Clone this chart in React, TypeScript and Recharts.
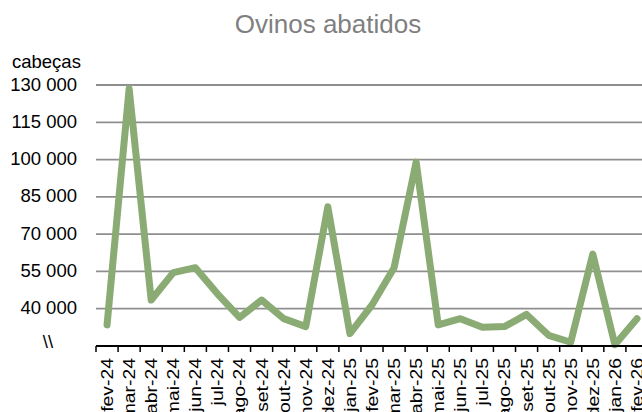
import React from "react";
import { LineChart, Line, XAxis, YAxis, CartesianGrid } from "recharts";

// meses (fev-24 .. fev-26)
const months = [
  "fev-24", "mar-24", "abr-24", "mai-24", "jun-24", "jul-24", "ago-24",
  "set-24", "out-24", "nov-24", "dez-24", "jan-25", "fev-25", "mar-25",
  "abr-25", "mai-25", "jun-25", "jul-25", "ago-25", "set-25", "out-25",
  "nov-25", "dez-25", "jan-26", "fev-26",
];

// cabeças abatidas
const ovinos = [
  33500, 128500, 43500, 54500, 56500, 46000, 36500, 43500, 36000, 32800,
  81000, 30000, 41500, 56500, 99000, 33500, 36000, 32500, 32800, 37700,
  29300, 26500, 62000, 25500, 36000,
];

const yTicks = [25000, 40000, 55000, 70000, 85000, 100000, 115000, 130000];
const yBreakLabel = "\\\\";

const FONT = "'Liberation Sans', Arial, sans-serif";
const CHART_W = 652;
const CHART_H = 412;
const Y_AXIS_W = 96;
const MARGIN = { top: 85, right: 4, bottom: 0, left: 0 };
const PLOT_W = CHART_W - MARGIN.left - MARGIN.right - Y_AXIS_W;
const STEP = PLOT_W / months.length;

const data = months.map((m, i) => ({ month: m, value: ovinos[i] }));

const fmt = (v: number) =>
  String(v).replace(/\B(?=(\d{3})+(?!\d))/g, " ");

const XTick = (props: any) => {
  const { x, y, payload } = props;
  const bx = x - STEP / 2;
  const ty = y + 12;
  return (
    <g>
      <line x1={bx} x2={bx} y1={y} y2={y + 6} stroke="#000" strokeWidth={1.5} />
      <text
        x={0}
        y={0}
        dy="0.35em"
        textAnchor="end"
        transform={`translate(${x}, ${ty}) rotate(-90) scale(1.14, 1)`}
        fontSize={17}
        fill="#000"
        fontFamily={FONT}
      >
        {payload.value}
      </text>
    </g>
  );
};

const YTick = (props: any) => {
  const { y, payload } = props;
  if (payload.value === yTicks[0]) {
    return (
      <text x={48} y={y + 2} textAnchor="middle" fontSize={18.5} fill="#000" fontFamily={FONT}>
        {yBreakLabel}
      </text>
    );
  }
  return (
    <text x={77} y={y} dy="0.3em" textAnchor="end" fontSize={18.5} fill="#000" fontFamily={FONT}>
      {fmt(payload.value)}
    </text>
  );
};

export default function App() {
  return (
    <div
      style={{
        position: "fixed",
        left: 0,
        top: 0,
        width: 642,
        height: 412,
        overflow: "hidden",
        background: "#fff",
      }}
    >
      <svg
        width={642}
        height={412}
        style={{ position: "absolute", left: 0, top: 0, pointerEvents: "none" }}
      >
        <text x={328} y={33} textAnchor="middle" fontSize={26} fill="#7f7f7f" fontFamily={FONT}>
          Ovinos abatidos
        </text>
        <text x={12} y={68} fontSize={18.5} fill="#000" fontFamily={FONT}>
          cabeças
        </text>
      </svg>
      <LineChart
        width={CHART_W}
        height={CHART_H}
        data={data}
        margin={MARGIN}
        style={{ position: "absolute", left: 0, top: 0, fontFamily: FONT }}
      >
        <CartesianGrid vertical={false} stroke="#8f8f8f" strokeWidth={1.8} />
        <XAxis
          dataKey="month"
          scale="band"
          interval={0}
          height={CHART_H - 346}
          tickLine={false}
          tickSize={0}
          tickMargin={0}
          axisLine={{ stroke: "#000", strokeWidth: 2 }}
          tick={<XTick />}
        />
        <YAxis
          width={Y_AXIS_W}
          domain={[25000, 130000]}
          ticks={yTicks}
          interval={0}
          axisLine={false}
          tickLine={false}
          tick={<YTick />}
        />
        <Line
          dataKey="value"
          type="linear"
          stroke="#8aab73"
          strokeWidth={7}
          strokeLinejoin="round"
          strokeLinecap="round"
          dot={false}
          isAnimationActive={false}
        />
      </LineChart>
    </div>
  );
}
